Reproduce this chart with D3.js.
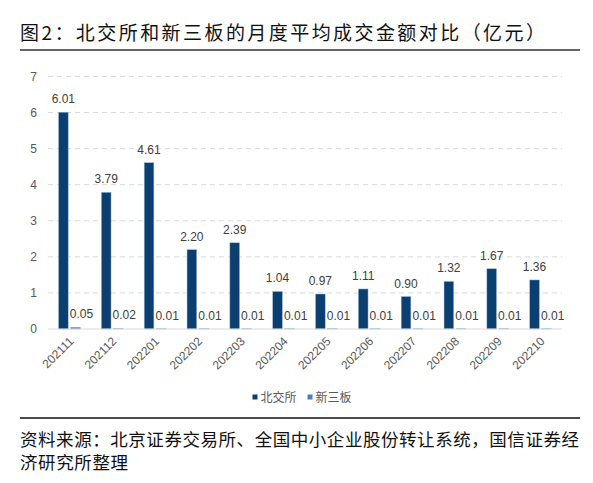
<!DOCTYPE html>
<html><head><meta charset="utf-8">
<script src="https://cdn.jsdelivr.net/npm/d3@7"></script>
<style>
html,body{margin:0;padding:0;background:#fff;}
svg{display:block;}
</style></head>
<body>
<svg id="chart" width="593" height="483"></svg>
<script>
const categories = ["202111","202112","202201","202202","202203","202204","202205","202206","202207","202208","202209","202210"];
const seriesNames = ["北交所","新三板"];
const bjsValues = [6.01,3.79,4.61,2.20,2.39,1.04,0.97,1.11,0.90,1.32,1.67,1.36];
const xsbValues = [0.05,0.02,0.01,0.01,0.01,0.01,0.01,0.01,0.01,0.01,0.01,0.01];
const yTicks = [0,1,2,3,4,5,6,7];
const titleText = "图2：北交所和新三板的月度平均成交金额对比（亿元）";
const sourceLines = ["资料来源：北京证券交易所、全国中小企业股份转让系统，国信证券经","济研究所整理"];

const colors = {"北交所":"#0b3f72","新三板":"#4a7fbf"};
const svg = d3.select("#chart");
const cjk = "'Noto Sans CJK SC','Noto Sans',sans-serif";
const lat = "'Liberation Sans',Arial,sans-serif";

// title
svg.append("text").attr("x",20).attr("y",40)
  .attr("font-family",cjk).attr("font-size",19).attr("fill","#111")
  .attr("textLength",525).attr("lengthAdjust","spacing")
  .text(titleText);
svg.append("line").attr("x1",20).attr("x2",580).attr("y1",50).attr("y2",50)
  .attr("stroke","#666").attr("stroke-width",2);

const x0 = d3.scaleBand().domain(categories).range([48,562]).paddingInner(0).paddingOuter(0);
const x1 = d3.scaleBand().domain(seriesNames).range([0,x0.bandwidth()]).paddingInner(0.2).paddingOuter(0.87);
const y = d3.scaleLinear().domain([0,7]).range([329,76.5]);

// gridlines
svg.append("g").selectAll("line").data(yTicks.filter(d=>d>0)).join("line")
  .attr("x1",48).attr("x2",562).attr("y1",d=>y(d)).attr("y2",d=>y(d))
  .attr("stroke","#d9d9d9").attr("stroke-width",1).attr("stroke-dasharray","5,4");

// y axis
const yAxis = d3.axisLeft(y).tickValues(yTicks).tickSize(0).tickPadding(10).tickFormat(d3.format("d"));
const yg = svg.append("g").attr("transform","translate(47,0)").call(yAxis);
yg.select(".domain").remove();
yg.selectAll("text").attr("font-family",lat).attr("font-size",12).attr("fill","#595959");

// bars
const data = categories.map((c,i)=>({cat:c, vals:[{s:"北交所",v:bjsValues[i]},{s:"新三板",v:xsbValues[i]}]}));
const groups = svg.append("g").selectAll("g").data(data).join("g")
  .attr("transform",d=>`translate(${x0(d.cat)},0)`);
groups.selectAll("rect").data(d=>d.vals).join("rect")
  .attr("x",d=>x1(d.s)).attr("width",x1.bandwidth())
  .attr("y",d=>y(d.v)).attr("height",d=>y(0)-y(d.v))
  .attr("fill",d=>colors[d.s]).attr("stroke","#9dbbd9").attr("stroke-width",0.5);
groups.selectAll("text").data(d=>d.vals).join("text")
  .attr("x",d=>x1(d.s)+x1.bandwidth()/2+(d.s==="新三板"?6:0))
  .attr("y",d=>y(d.v)-9)
  .attr("text-anchor","middle").attr("font-family",lat).attr("font-size",12).attr("fill","#404040")
  .text(d=>d3.format(".2f")(d.v));

// x axis
svg.append("line").attr("x1",48).attr("x2",562).attr("y1",y(0)).attr("y2",y(0))
  .attr("stroke","#d9d9d9").attr("stroke-width",1.2);
const xAxis = d3.axisBottom(x0).tickSize(0).tickPadding(0);
const xg = svg.append("g").attr("transform",`translate(0,${y(0)})`).call(xAxis);
xg.select(".domain").remove();
xg.selectAll("text")
  .attr("font-family",lat).attr("font-size",12).attr("fill","#595959")
  .attr("text-anchor","end").attr("dy",null).attr("y",0)
  .attr("transform","translate(5,13) rotate(-45)");

// legend
const legend = svg.append("g");
const legendX = [252.5,307.5];
seriesNames.forEach((s,i)=>{
  legend.append("rect").attr("x",legendX[i]).attr("y",394.5).attr("width",5).attr("height",5).attr("fill",colors[s]);
  legend.append("text").attr("x",legendX[i]+8).attr("y",401.5)
    .attr("font-family",cjk).attr("font-size",12).attr("fill","#595959").text(s);
});

// source
svg.append("line").attr("x1",20).attr("x2",580).attr("y1",418).attr("y2",418)
  .attr("stroke","#111").attr("stroke-width",1.5);
svg.append("text").attr("x",20).attr("y",446)
  .attr("font-family",cjk).attr("font-size",17.5).attr("fill","#111")
  .attr("textLength",559).attr("lengthAdjust","spacing").text(sourceLines[0]);
svg.append("text").attr("x",20).attr("y",469)
  .attr("font-family",cjk).attr("font-size",17.5).attr("fill","#111")
  .attr("textLength",108).attr("lengthAdjust","spacing").text(sourceLines[1]);
</script>
</body></html>
